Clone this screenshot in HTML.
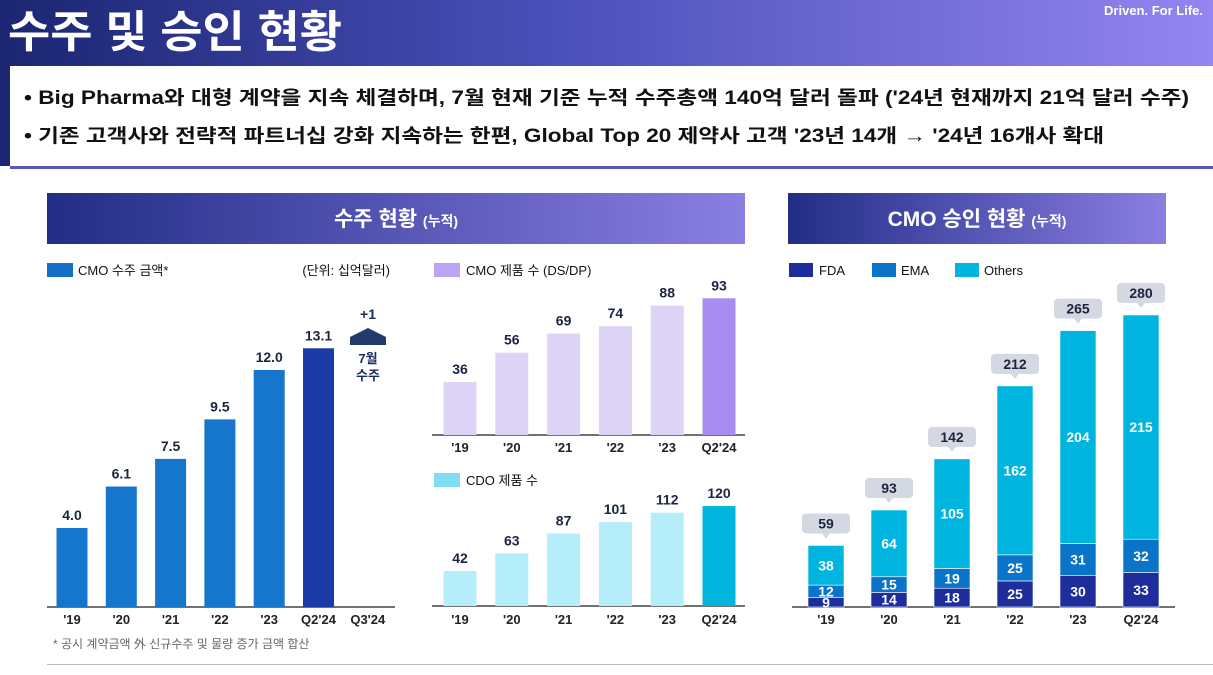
<!DOCTYPE html>
<html><head><meta charset="utf-8"><style>
body{margin:0;width:1213px;height:670px;overflow:hidden;background:#fff;font-family:"Liberation Sans","Noto Sans CJK KR",sans-serif;}
</style></head><body>
<svg id="s" width="1213" height="670" xmlns="http://www.w3.org/2000/svg" font-family="Liberation Sans, Noto Sans CJK KR, sans-serif">
<defs>
<linearGradient id="hg" x1="0" x2="1"><stop offset="0" stop-color="#1b2672"/><stop offset="0.45" stop-color="#4a4fb8"/><stop offset="1" stop-color="#9485f0"/></linearGradient>
<linearGradient id="pg" x1="0" x2="1"><stop offset="0" stop-color="#222d86"/><stop offset="1" stop-color="#8a7fe2"/></linearGradient>
</defs>
<rect x="0" y="0" width="1213" height="166" fill="url(#hg)"/>
<text x="8" y="47" font-size="44" font-weight="bold" fill="#fff" textLength="334" lengthAdjust="spacingAndGlyphs">수주 및 승인 현황</text>
<text x="1203" y="15" font-size="13" font-weight="bold" fill="#fff" text-anchor="end">Driven. For Life.</text>
<rect x="10" y="66" width="1203" height="100" fill="#fff"/>
<text x="24" y="104" font-size="19" font-weight="bold" fill="#111" textLength="1165" lengthAdjust="spacingAndGlyphs">• Big Pharma와 대형 계약을 지속 체결하며, 7월 현재 기준 누적 수주총액 140억 달러 돌파 ('24년 현재까지 21억 달러 수주)</text>
<text x="24" y="142" font-size="19" font-weight="bold" fill="#111" textLength="1080" lengthAdjust="spacingAndGlyphs">• 기존 고객사와 전략적 파트너십 강화 지속하는 한편, Global Top 20 제약사 고객 '23년 14개 → '24년 16개사 확대</text>
<rect x="10" y="166" width="1203" height="3" fill="#5b55b5"/>
<rect x="47" y="193" width="698" height="51" fill="url(#pg)"/>
<text x="396" y="226" font-size="21" font-weight="bold" fill="#fff" text-anchor="middle">수주 현황 <tspan font-size="14">(누적)</tspan></text>
<rect x="788" y="193" width="378" height="51" fill="url(#pg)"/>
<text x="977" y="226" font-size="21" font-weight="bold" fill="#fff" text-anchor="middle">CMO 승인 현황 <tspan font-size="14">(누적)</tspan></text>
<rect x="47" y="263" width="26" height="14" fill="#1570c8"/>
<text x="78" y="275" font-size="13" fill="#111">CMO 수주 금액*</text>
<text x="390" y="275" font-size="13" fill="#111" text-anchor="end">(단위: 십억달러)</text>
<rect x="434" y="263" width="26" height="14" fill="#b9a5f2"/>
<text x="466" y="275" font-size="13" fill="#111">CMO 제품 수 (DS/DP)</text>
<rect x="434" y="473" width="26" height="14" fill="#7fdcf3"/>
<text x="466" y="485" font-size="13" fill="#111">CDO 제품 수</text>
<rect x="789" y="263" width="24" height="14" fill="#1e2d9c"/>
<text x="819" y="275" font-size="13" fill="#111">FDA</text>
<rect x="872" y="263" width="24" height="14" fill="#0a74c9"/>
<text x="901" y="275" font-size="13" fill="#111">EMA</text>
<rect x="955" y="263" width="24" height="14" fill="#00b4e0"/>
<text x="984" y="275" font-size="13" fill="#111">Others</text>
<text x="53" y="648" font-size="12" fill="#666">* 공시 계약금액 外 신규수주 및 물량 증가 금액 합산</text>
<rect x="47" y="664" width="1166" height="1" fill="#bbb"/>
<g>
<text x="368" y="319" font-size="14" font-weight="bold" fill="#1c2b5e" text-anchor="middle">+1</text>
<polygon points="368,328 386,337 386,345 350,345 350,337" fill="#233a6b"/>
<text x="368" y="363" font-size="13" font-weight="bold" fill="#1c2b5e" text-anchor="middle">7월</text>
<text x="368" y="380" font-size="13" font-weight="bold" fill="#1c2b5e" text-anchor="middle">수주</text>
</g>
<g id="charts"></g>
</svg>
<script>
const orderCats=["'19","'20","'21","'22","'23","Q2'24","Q3'24"];
const orderVals=[4.0,6.1,7.5,9.5,12.0,13.1,null];
const cmoCats=["'19","'20","'21","'22","'23","Q2'24"];
const cmoVals=[36,56,69,74,88,93];
const cdoCats=["'19","'20","'21","'22","'23","Q2'24"];
const cdoVals=[42,63,87,101,112,120];
const apprCats=["'19","'20","'21","'22","'23","Q2'24"];
const fdaVals=[9,14,18,25,30,33];
const emaVals=[12,15,19,25,31,32];
const othVals=[38,64,105,162,204,215];
const apprTotals=[59,93,142,212,265,280];

const NS="http://www.w3.org/2000/svg";
const g=document.getElementById('charts');
function el(t,a,txt){const e=document.createElementNS(NS,t);for(const k in a)e.setAttribute(k,a[k]);if(txt!=null)e.textContent=txt;g.appendChild(e);return e;}

function simpleChart(name,cats,vals,x0,step,bw,base,scale,color,lastColor,axX1,axX2,labelY){
  const ax=el('line',{x1:axX1,x2:axX2,y1:base,y2:base,stroke:'#444','stroke-width':1.5});
  
  
  cats.forEach((c,i)=>{
    const cx=x0+i*step;
    const t=el('text',{x:cx,y:labelY,'font-size':13,'font-weight':'bold',fill:'#222','text-anchor':'middle'},c);
    
    
    const v=vals[i];
    if(v==null)return;
    const h=v*scale;
    const last=i===cats.length-1||(vals[i+1]==null);
    const r=el('rect',{x:cx-bw/2,y:base-h,width:bw,height:h,fill:last?lastColor:color});
    
    
    const vt=el('text',{x:cx,y:base-h-8,'font-size':14,'font-weight':'bold',fill:'#1c2540','text-anchor':'middle'},String(name==='orders'?v.toFixed(1):v));
    
    
  });
}
simpleChart('orders',orderCats,orderVals,72,49.3,31,607,19.75,'#1576cb','#1b3aa6',47,395,624);
simpleChart('cmo-products',cmoCats,cmoVals,460,51.8,33,435,1.47,'#ddd3f7','#a88cf0',432,745,452);
simpleChart('cdo-products',cdoCats,cdoVals,460,51.8,33,606,0.833,'#b5edfa','#00b6df',432,745,624);

const base=607, sc=1.043, bw=36, x0=826, step=63;
const ax=el('line',{x1:792,x2:1175,y1:base,y2:base,stroke:'#444','stroke-width':1.5});


apprCats.forEach((c,i)=>{
  const cx=x0+i*step;
  const t=el('text',{x:cx,y:624,'font-size':13,'font-weight':'bold',fill:'#222','text-anchor':'middle'},c);
  
  
  let y=base;
  [[fdaVals,'#1e2d9c','fda'],[emaVals,'#0a74c9','ema'],[othVals,'#00b4e0','others']].forEach(([arr,col,nm])=>{
    const h=arr[i]*sc;
    y-=h;
    const r=el('rect',{x:cx-bw/2,y:y,width:bw,height:h,fill:col,stroke:'#fff','stroke-width':0.6});
    
    
    const lt=el('text',{x:cx,y:y+h/2+5,'font-size':14,'font-weight':'bold',fill:'#fff','text-anchor':'middle'},String(arr[i]));
    
    
  });
  const top=base-apprTotals[i]*sc;
  const b=el('path',{d:`M${cx-20},${top-32} h40 a4,4 0 0 1 4,4 v12 a4,4 0 0 1 -4,4 h-16 l-4,5 l-4,-5 h-16 a4,4 0 0 1 -4,-4 v-12 a4,4 0 0 1 4,-4 z`,fill:'#d3d8e2'});
  
  
  const tt=el('text',{x:cx,y:top-17,'font-size':14,'font-weight':'bold',fill:'#1c2540','text-anchor':'middle'},String(apprTotals[i]));
  
  
});
</script>
</body></html>
